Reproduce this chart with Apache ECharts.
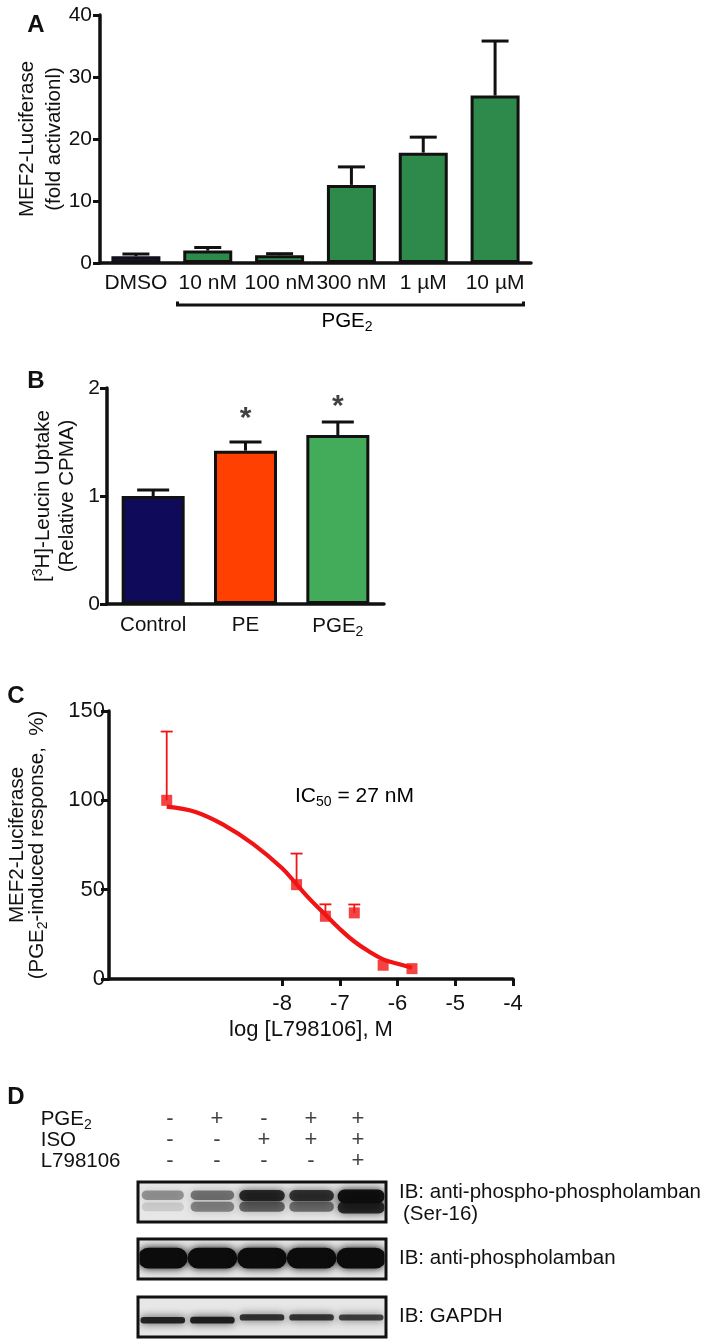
<!DOCTYPE html>
<html>
<head>
<meta charset="utf-8">
<script src="https://cdn.jsdelivr.net/npm/echarts@6/dist/echarts.min.js"></script>
<style>
html,body{margin:0;padding:0;background:#fff;}
#c{width:709px;height:1342px;}
</style>
</head>
<body>
<div id="c"></div>
<script>
// ---------- Panel A ----------
const catsA = ['DMSO', '10 nM', '100 nM', '300 nM', '1 µM', '10 µM'];
const meanA = [1.1, 2.0, 1.25, 12.6, 17.8, 27.0];
const errA  = [0.35, 0.5, 0.25, 2.9, 2.5, 8.8];
const colorsA = ['#16165a', '#2e8a4a', '#2e8a4a', '#2e8a4a', '#2e8a4a', '#2e8a4a'];

// ---------- Panel B ----------
const catsB = ['Control', 'PE', 'PGE2'];
const meanB = [1.0, 1.42, 1.565];
const errB  = [0.055, 0.08, 0.12];
const colorsB = ['#0f0b5a', '#ff4000', '#43ac5a'];
const sigB = [null, 1.72, 1.83];

// ---------- Panel C ----------
const logX  = [-10, -7.75, -7.25, -6.75, -6.25, -5.75];
const respC = [100, 52.8, 35.1, 37.0, 7.7, 5.8];
const errTopC = [138.5, 70.2, 41.8, 41.7, null, null];
const curveX = [-10, -9.5, -9.0, -8.5, -8.0, -7.75, -7.5, -7.25, -7.0, -6.75, -6.5, -6.25, -6.0, -5.75];
const curveY = [96.5, 93.5, 86, 75.5, 62, 53, 44, 36, 28, 21, 15.5, 11, 8.5, 6.3];
const xTicksC = [-8, -7, -6, -5, -4];

// ---------- Panel D ----------
const lanes = ['1', '2', '3', '4', '5'];
const treatRows = ['PGE2', 'ISO', 'L798106'];
const pgeSigns = ['-', '+', '-', '+', '+'];
const isoSigns = ['-', '-', '+', '+', '+'];
const lSigns   = ['-', '-', '-', '-', '+'];
// [lane, centre (fraction of box from top), thickness (fraction), darkness, width fraction]
const blot1Bands = [
  [0, 0.33, 0.24, 0.36, 0.85], [0, 0.62, 0.22, 0.12, 0.85],
  [1, 0.33, 0.24, 0.48, 0.88], [1, 0.62, 0.25, 0.42, 0.88],
  [2, 0.34, 0.28, 0.82, 0.92], [2, 0.62, 0.25, 0.55, 0.92],
  [3, 0.34, 0.28, 0.76, 0.90], [3, 0.62, 0.25, 0.50, 0.90],
  [4, 0.36, 0.34, 0.95, 0.95], [4, 0.64, 0.30, 0.82, 0.95]
];
const blot2Bands = [
  [0, 0.48, 0.52, 1, 1.0], [1, 0.48, 0.52, 1, 1.0], [2, 0.48, 0.52, 1, 1.0],
  [3, 0.48, 0.52, 1, 1.0], [4, 0.48, 0.52, 1, 1.0]
];
const blot3Bands = [
  [0, 0.58, 0.16, 0.85, 0.9], [1, 0.58, 0.17, 0.88, 0.9], [2, 0.51, 0.16, 0.78, 0.9],
  [3, 0.51, 0.16, 0.76, 0.9], [4, 0.51, 0.15, 0.72, 0.9]
];
const blotLabels = ['IB: anti-phospho-phospholamban', '(Ser-16)', 'IB: anti-phospholamban', 'IB: GAPDH'];

const FONT = '"Liberation Sans", Arial, Helvetica, sans-serif';
const INK = '#111111';

function subRich(lh, fs) {
  fs = fs || 20;
  return {
    n: { fontSize: fs, fontFamily: FONT, color: INK, lineHeight: lh },
    s: { fontSize: Math.round(fs * 0.66), fontFamily: FONT, color: INK, lineHeight: lh - 12, padding: [12, 0, 0, 0] },
    sup: { fontSize: Math.round(fs * 0.66), fontFamily: FONT, color: INK, lineHeight: lh - 10, padding: [0, 0, 10, 0] }
  };
}

function errRender(capHalf, lw, color) {
  return function (params, api) {
    const x = api.value(0), lo = api.value(1), hi = api.value(2);
    const p1 = api.coord([x, lo]);
    const p2 = api.coord([x, hi]);
    return {
      type: 'group',
      children: [
        { type: 'line', shape: { x1: p1[0], y1: p1[1], x2: p2[0], y2: p2[1] }, style: { stroke: color, lineWidth: lw } },
        { type: 'line', shape: { x1: p2[0] - capHalf, y1: p2[1], x2: p2[0] + capHalf, y2: p2[1] }, style: { stroke: color, lineWidth: lw } }
      ]
    };
  };
}

function bandRender(params, api) {
  const lane = api.value(0), yc = api.value(1), h = api.value(2), d = api.value(3), wf = api.value(4);
  const c = api.coord([lane, yc]);
  const laneW = api.size([1, 0])[0];
  const hp = Math.abs(api.size([0, h])[1]);
  const w = laneW * wf;
  const cs = params.coordSys;
  const col = 'rgba(12,12,12,' + d + ')';
  return {
    type: 'rect',
    shape: { x: c[0] - w / 2, y: c[1] - hp / 2, width: w, height: hp, r: hp / 2 },
    style: { fill: col, shadowBlur: 8, shadowColor: col },
    clipPath: { type: 'rect', shape: { x: cs.x + 1.5, y: cs.y + 1.5, width: cs.width - 3, height: cs.height - 3 } }
  };
}

const hiddenCat = (gi, data) => ({ type: 'category', gridIndex: gi, data: data, show: false });
const hiddenVal = (gi) => ({ type: 'value', gridIndex: gi, min: 0, max: 1, inverse: true, show: false });

const axisLineStyle = { show: true, lineStyle: { color: INK, width: 3.5 } };
const tickStyle = { show: true, length: 7, lineStyle: { color: INK, width: 3 } };
const lbl = (fs) => ({ fontSize: fs, fontFamily: FONT, color: INK });

const blotGrid = (top) => ({ left: 138, top: top, width: 248, height: 40, show: true, backgroundColor: '#e7e7e7', borderColor: '#111', borderWidth: 3, outerBoundsMode: 'none' });

const signData = [];
[pgeSigns, isoSigns, lSigns].forEach((row, r) => row.forEach((s, i) => signData.push([i, r, s])));

const option = {
  animation: false,
  backgroundColor: '#fff',
  textStyle: { fontFamily: FONT },
  grid: [
    { left: 100, top: 15, width: 431, height: 248, outerBoundsMode: 'none' },
    { left: 107, top: 388, width: 277, height: 216, outerBoundsMode: 'none' },
    { left: 109, top: 711, width: 404, height: 268, outerBoundsMode: 'none' },
    { left: 146.5, top: 1108.5, width: 235, height: 63, outerBoundsMode: 'none' },
    blotGrid(1182), blotGrid(1239), blotGrid(1297)
  ],
  xAxis: [
    { type: 'category', gridIndex: 0, data: catsA, axisLine: axisLineStyle, axisTick: { show: false },
      axisLabel: Object.assign({ interval: 0, margin: 10 }, lbl(21)) },
    { type: 'category', gridIndex: 1, data: catsB, axisLine: axisLineStyle, axisTick: { show: false },
      axisLabel: Object.assign({ interval: 0, margin: 11,
        formatter: v => v === 'PGE2' ? '{n|PGE}{s|2}' : v, rich: subRich(22, 20.5) }, lbl(20.5)) },
    { type: 'value', gridIndex: 2, min: -11, max: -4, interval: 1,
      axisLine: { show: true, onZero: false, lineStyle: { color: INK, width: 3.5 } },
      axisTick: { show: true, length: 7, customValues: xTicksC, lineStyle: { color: INK, width: 3 } },
      axisLabel: Object.assign({ customValues: xTicksC, margin: 14 }, lbl(22)),
      splitLine: { show: false },
      name: 'log [L798106], M', nameLocation: 'middle', nameGap: 40, nameMoveOverlap: false,
      nameTextStyle: lbl(22) },
    hiddenCat(3, lanes),
    hiddenCat(4, lanes), hiddenCat(5, lanes), hiddenCat(6, lanes)
  ],
  yAxis: [
    { type: 'value', gridIndex: 0, min: 0, max: 40, interval: 10, axisLine: axisLineStyle, axisTick: tickStyle,
      axisLabel: Object.assign({ margin: 8 }, lbl(21)), splitLine: { show: false },
      name: 'MEF2-Luciferase\n(fold activationl)', nameLocation: 'middle', nameRotate: 90, nameGap: 32, nameMoveOverlap: false,
      nameTextStyle: Object.assign({ lineHeight: 27 }, lbl(20.5)) },
    { type: 'value', gridIndex: 1, min: 0, max: 2, interval: 1, axisLine: axisLineStyle, axisTick: tickStyle,
      axisLabel: Object.assign({ margin: 7 }, lbl(21)), splitLine: { show: false },
      name: '{n|[}{sup|3}{n|H]-Leucin Uptake}\n{n|(Relative CPMA)}', nameLocation: 'middle', nameRotate: 90, nameGap: 28, nameMoveOverlap: false,
      nameTextStyle: Object.assign({ lineHeight: 24, rich: subRich(24, 20.5) }, lbl(20.5)) },
    { type: 'value', gridIndex: 2, min: 0, max: 150, interval: 50,
      axisLine: { show: true, lineStyle: { color: INK, width: 3.5 } }, axisTick: { show: true, length: 8, lineStyle: { color: INK, width: 3 } },
      axisLabel: Object.assign({ margin: 4 }, lbl(22)), splitLine: { show: false },
      name: '{n|MEF2-Luciferase}\n{n|(PGE}{s|2}{n|-induced response,  %)}', nameLocation: 'middle', nameRotate: 90, nameGap: 62, nameMoveOverlap: false,
      nameTextStyle: Object.assign({ lineHeight: 20, rich: subRich(20, 20.5) }, lbl(20.5)) },
    { type: 'category', gridIndex: 3, data: treatRows, inverse: true,
      axisLine: { show: false }, axisTick: { show: false },
      axisLabel: Object.assign({ align: 'left', margin: 105.8, interval: 0,
        formatter: v => v === 'PGE2' ? '{n|PGE}{s|2}' : v, rich: subRich(22, 20.5) }, lbl(20.5)) },
    hiddenVal(4), hiddenVal(5), hiddenVal(6)
  ],
  series: [
    { type: 'bar', xAxisIndex: 0, yAxisIndex: 0, barWidth: 49,
      data: meanA.map((v, i) => ({ value: v, itemStyle: { color: colorsA[i] } })),
      itemStyle: { borderColor: '#111', borderWidth: 3 } },
    { type: 'custom', xAxisIndex: 0, yAxisIndex: 0, z: 5, renderItem: errRender(13.5, 3, '#111'),
      data: meanA.map((v, i) => [i, v, v + errA[i]]) },
    { type: 'bar', xAxisIndex: 1, yAxisIndex: 1, barWidth: 63,
      data: meanB.map((v, i) => ({ value: v, itemStyle: { color: colorsB[i] } })),
      itemStyle: { borderColor: '#111', borderWidth: 3 } },
    { type: 'custom', xAxisIndex: 1, yAxisIndex: 1, z: 5, renderItem: errRender(16, 3, '#111'),
      data: meanB.map((v, i) => [i, v, v + errB[i]]) },
    { type: 'scatter', xAxisIndex: 1, yAxisIndex: 1, symbolSize: 1, itemStyle: { color: 'rgba(0,0,0,0)' },
      data: sigB.map((v, i) => v === null ? null : [i, v]).filter(d => d),
      label: { show: true, position: 'inside', formatter: '*', fontSize: 30, fontWeight: 'bold', fontFamily: FONT, color: INK } },
    { type: 'line', xAxisIndex: 2, yAxisIndex: 2, smooth: 0.4, symbol: 'none', z: 3,
      lineStyle: { color: '#f01414', width: 4.2 },
      data: curveX.map((x, i) => [x, curveY[i]]) },
    { type: 'custom', xAxisIndex: 2, yAxisIndex: 2, z: 4, renderItem: errRender(6, 1.8, '#f01414'),
      data: logX.map((x, i) => errTopC[i] === null ? null : [x, respC[i], errTopC[i]]).filter(d => d) },
    { type: 'scatter', xAxisIndex: 2, yAxisIndex: 2, symbol: 'rect', symbolSize: 11, z: 6,
      itemStyle: { color: '#f01414' }, data: logX.map((x, i) => [x, respC[i]]) },
    { type: 'scatter', xAxisIndex: 3, yAxisIndex: 3, symbolSize: 1, itemStyle: { color: 'rgba(0,0,0,0)' },
      data: signData,
      label: { show: true, position: 'inside', formatter: p => p.value[2], fontSize: 22, fontFamily: FONT, color: INK } },
    { type: 'custom', xAxisIndex: 4, yAxisIndex: 4, renderItem: bandRender, data: blot1Bands },
    { type: 'custom', xAxisIndex: 5, yAxisIndex: 5, renderItem: bandRender, data: blot2Bands },
    { type: 'custom', xAxisIndex: 6, yAxisIndex: 6, renderItem: bandRender, data: blot3Bands }
  ],
  graphic: [
    { type: 'text', x: 36, y: 25, style: { text: 'A', fontSize: 24, fontWeight: 'bold', fontFamily: FONT, fill: INK, align: 'center', verticalAlign: 'middle' } },
    { type: 'text', x: 36, y: 381, style: { text: 'B', fontSize: 24, fontWeight: 'bold', fontFamily: FONT, fill: INK, align: 'center', verticalAlign: 'middle' } },
    { type: 'text', x: 16, y: 696, style: { text: 'C', fontSize: 24, fontWeight: 'bold', fontFamily: FONT, fill: INK, align: 'center', verticalAlign: 'middle' } },
    { type: 'text', x: 16, y: 1097, style: { text: 'D', fontSize: 24, fontWeight: 'bold', fontFamily: FONT, fill: INK, align: 'center', verticalAlign: 'middle' } },
    { type: 'polyline', shape: { points: [[177.5, 301.5], [177.5, 305], [523.5, 305], [523.5, 301.5]] }, style: { stroke: INK, lineWidth: 3, fill: null } },
    { type: 'text', x: 347, y: 321, style: { text: '{n|PGE}{s|2}', rich: subRich(22, 20.5), align: 'center', verticalAlign: 'middle' } },
    { type: 'text', x: 295, y: 796, style: { text: '{n|IC}{s|50}{n| = 27 nM}', rich: subRich(22, 21), align: 'left', verticalAlign: 'middle' } },
    { type: 'text', x: 399, y: 1192, style: { text: blotLabels[0], fontSize: 20.5, fontFamily: FONT, fill: INK, align: 'left', verticalAlign: 'middle' } },
    { type: 'text', x: 403, y: 1214, style: { text: blotLabels[1], fontSize: 20.5, fontFamily: FONT, fill: INK, align: 'left', verticalAlign: 'middle' } },
    { type: 'text', x: 399, y: 1258, style: { text: blotLabels[2], fontSize: 20.5, fontFamily: FONT, fill: INK, align: 'left', verticalAlign: 'middle' } },
    { type: 'text', x: 399, y: 1316, style: { text: blotLabels[3], fontSize: 20.5, fontFamily: FONT, fill: INK, align: 'left', verticalAlign: 'middle' } }
  ]
};

const chart = echarts.init(document.getElementById('c'), null, { renderer: 'canvas' });
chart.setOption(option);
</script>
</body>
</html>
